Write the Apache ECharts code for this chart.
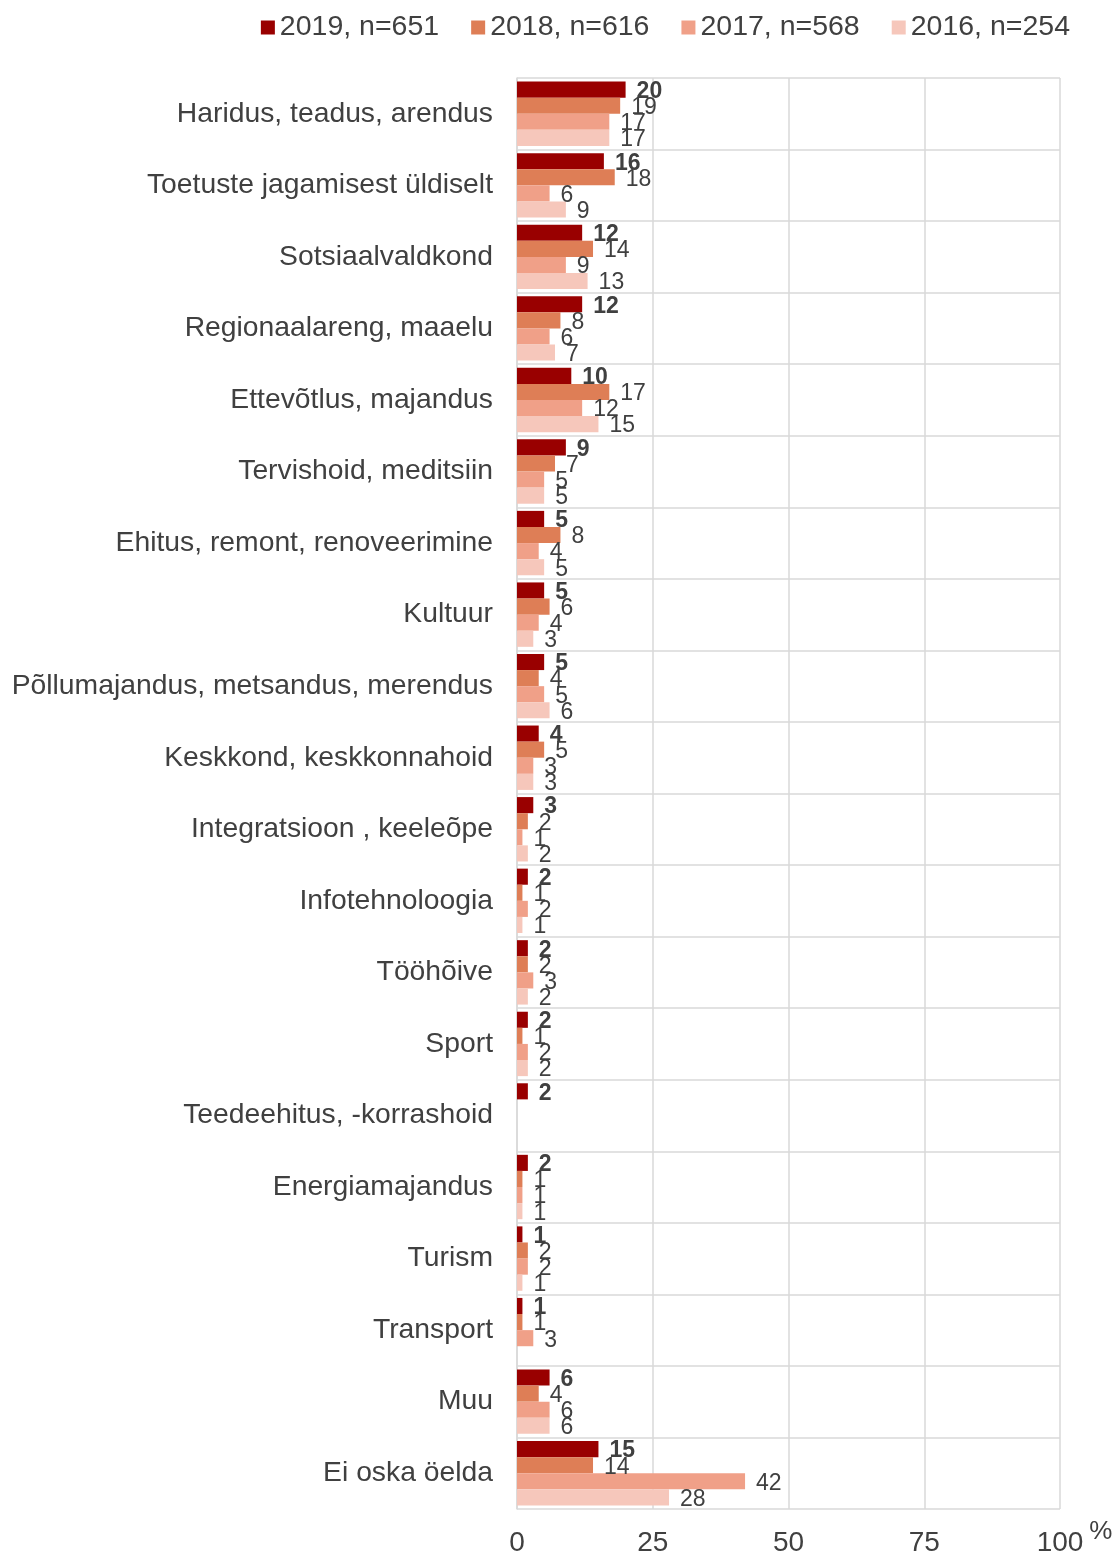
<!DOCTYPE html>
<html>
<head>
<meta charset="utf-8">
<script src="https://cdn.jsdelivr.net/npm/echarts@6/dist/echarts.min.js"></script>
<style>
html,body{margin:0;padding:0;background:#fff;}
#chart{width:1119px;height:1557px;}
</style>
</head>
<body>
<div id="chart"></div>
<script>
const categories = [
  "Haridus, teadus, arendus",
  "Toetuste jagamisest üldiselt",
  "Sotsiaalvaldkond",
  "Regionaalareng, maaelu",
  "Ettevõtlus, majandus",
  "Tervishoid, meditsiin",
  "Ehitus, remont, renoveerimine",
  "Kultuur",
  "Põllumajandus, metsandus, merendus",
  "Keskkond, keskkonnahoid",
  "Integratsioon , keeleõpe",
  "Infotehnoloogia",
  "Tööhõive",
  "Sport",
  "Teedeehitus, -korrashoid",
  "Energiamajandus",
  "Turism",
  "Transport",
  "Muu",
  "Ei oska öelda"
];
const seriesNames = ["2019, n=651", "2018, n=616", "2017, n=568", "2016, n=254"];
const v2019 = [20, 16, 12, 12, 10, 9, 5, 5, 5, 4, 3, 2, 2, 2, 2, 2, 1, 1, 6, 15];
const v2018 = [19, 18, 14, 8, 17, 7, 8, 6, 4, 5, 2, 1, 2, 1, null, 1, 2, 1, 4, 14];
const v2017 = [17, 6, 9, 6, 12, 5, 4, 4, 5, 3, 1, 2, 3, 2, null, 1, 2, 3, 6, 42];
const v2016 = [17, 9, 13, 7, 15, 5, 5, 3, 6, 3, 2, 1, 2, 2, null, 1, 1, null, 6, 28];
const xTicks = [0, 25, 50, 75, 100];
const colors = ["#990000", "#DE7E56", "#F0A088", "#F6C7BB"];

const allValues = [v2019, v2018, v2017, v2016];
const chart = echarts.init(document.getElementById('chart'));
const txt = '#404040';
const font = 'Liberation Sans, Arial, sans-serif';

const series = allValues.map((vals, i) => ({
  name: seriesNames[i],
  type: 'bar',
  data: vals,
  barGap: '0%',
  barCategoryGap: '10%',
  itemStyle: { color: colors[i] },
  label: {
    show: true,
    position: 'right',
    distance: 11,
    offset: [0, 2],
    color: txt,
    fontFamily: font,
    fontSize: 23,
    fontWeight: i === 0 ? 'bold' : 'normal'
  }
}));

chart.setOption({
  animation: false,
  backgroundColor: '#ffffff',
  textStyle: { fontFamily: font },
  legend: {
    top: 8,
    right: 44,
    itemWidth: 14,
    itemHeight: 14,
    itemGap: 32,
    icon: 'rect',
    textStyle: { color: txt, fontSize: 28.5, fontFamily: font },
    data: seriesNames
  },
  grid: { left: 517, right: 59, top: 78, bottom: 47, containLabel: false },
  xAxis: {
    type: 'value',
    min: xTicks[0],
    max: xTicks[xTicks.length - 1],
    interval: 25,
    name: '%',
    nameLocation: 'end',
    nameGap: 8,
    nameTextStyle: { color: txt, fontSize: 26, fontFamily: font, verticalAlign: 'top', padding: [10, 0, 0, 0] },
    axisLine: { show: false },
    axisTick: { show: false },
    axisLabel: { color: txt, fontSize: 28, fontFamily: font, margin: 20 },
    splitLine: { show: true, lineStyle: { color: '#D9D9D9', width: 1.5 } }
  },
  yAxis: {
    type: 'category',
    data: categories,
    inverse: true,
    axisLine: { show: true, lineStyle: { color: '#D9D9D9', width: 1.5 } },
    axisTick: { show: false },
    axisLabel: { color: txt, fontSize: 28.3, fontFamily: font, margin: 24 },
    splitLine: { show: true, lineStyle: { color: '#D9D9D9', width: 1.5 } }
  },
  series: series
});
</script>
</body>
</html>
